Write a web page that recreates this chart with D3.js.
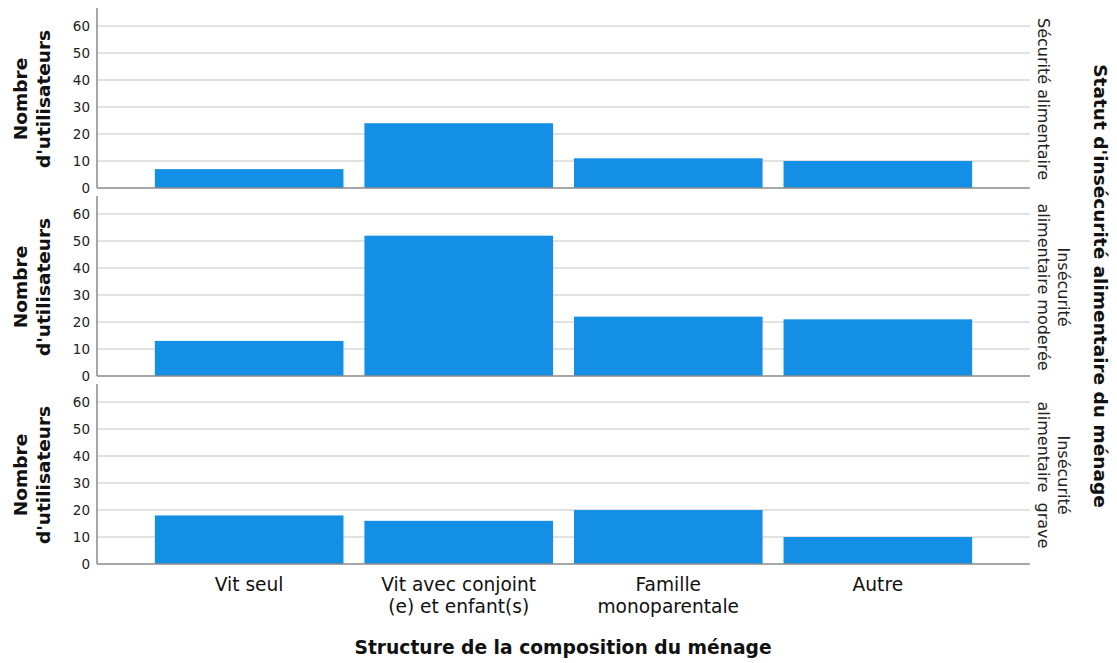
<!DOCTYPE html>
<html><head><meta charset="utf-8">
<script src="https://cdn.jsdelivr.net/npm/d3@7"></script>
<style>body{margin:0;background:#fff}svg{display:block}text{font-family:"DejaVu Sans",sans-serif}</style>
</head><body><svg id="c" width="1117" height="663"></svg>
<script>
const categories = ["Vit seul", "Vit avec conjoint|(e) et enfant(s)", "Famille|monoparentale", "Autre"];
const panels = ["Sécurité alimentaire", "Insécurité|alimentaire moderée", "Insécurité|alimentaire  grave"];
const securite = [7, 24, 11, 10];
const moderee = [13, 52, 22, 21];
const grave = [18, 16, 20, 10];
const yTicks = [0, 10, 20, 30, 40, 50, 60];
const yTitle = ["Nombre", "d'utilisateurs"];
const seriesValues = [securite, moderee, grave];

const svg = d3.select("#c");
const left = 97, right = 1030;
const x = d3.scaleBand().domain(categories).range([left, right]).paddingInner(0.1).paddingOuter(0.276);
const panelH = 188;

panels.forEach((p, i) => {
  const base = 188 + i * panelH;
  const y = d3.scaleLinear().domain([0, 66.7]).range([base, base - 180]);
  const g = svg.append("g");
  g.selectAll("line.grid").data(yTicks.slice(1)).enter().append("line").attr("class", "grid")
    .attr("x1", left).attr("x2", right).attr("y1", d => y(d)).attr("y2", d => y(d))
    .attr("stroke", "#d9d9d9").attr("stroke-width", 1.5);
  g.selectAll("rect.bar").data(seriesValues[i]).enter().append("rect").attr("class", "bar")
    .attr("x", (d, j) => x(categories[j])).attr("width", x.bandwidth())
    .attr("y", d => y(d)).attr("height", d => y(0) - y(d))
    .attr("fill", "#1390e6");
  g.append("line").attr("x1", left).attr("x2", right).attr("y1", y(0)).attr("y2", y(0))
    .attr("stroke", "#8a8a8a").attr("stroke-width", 1.5);
  g.append("line").attr("x1", left).attr("x2", left).attr("y1", y(66.7)).attr("y2", y(0))
    .attr("stroke", "#8a8a8a").attr("stroke-width", 1.5);
  g.selectAll("text.tick").data(yTicks).enter().append("text").attr("class", "tick")
    .attr("x", left - 7).attr("y", d => y(d)).attr("dy", "0.36em")
    .attr("text-anchor", "end").attr("font-size", 13.5).attr("fill", "#222").text(d => d);
  const cy = base - 89;
  yTitle.forEach((t, k) => {
    const tx = 27 + k * 22.5;
    g.append("text").attr("class", "ytitle").attr("transform", `rotate(-90,${tx},${cy})`)
      .attr("x", tx).attr("y", cy)
      .attr("text-anchor", "middle").attr("font-size", 18.5).attr("font-weight", "bold")
      .attr("fill", "#111").text(t);
  });
  const lines = p.split("|");
  lines.forEach((l, k) => {
    const bx = 1038 + (lines.length - 1 - k) * 20;
    g.append("text").attr("transform", `rotate(90,${bx},${cy})`)
      .attr("x", bx).attr("y", cy)
      .attr("text-anchor", "middle").attr("font-size", 16).attr("fill", "#222")
      .style("white-space", "pre").text(l);
  });
});

categories.forEach(c => {
  const lines = c.split("|");
  const cx = x(c) + x.bandwidth() / 2;
  lines.forEach((l, k) => svg.append("text").attr("x", cx).attr("y", 591 + k * 21.7)
    .attr("text-anchor", "middle").attr("font-size", 18.6).attr("fill", "#111").text(l));
});

svg.append("text").attr("x", 563).attr("y", 654).attr("text-anchor", "middle")
  .attr("font-size", 18.7).attr("font-weight", "bold").attr("fill", "#111")
  .text("Structure de la composition du ménage");

svg.append("text").attr("transform", "rotate(90,1094,286)").attr("x", 1094).attr("y", 286).attr("text-anchor", "middle")
  .attr("font-size", 18.5).attr("font-weight", "bold").attr("fill", "#111")
  .text("Statut d'insécurité alimentaire du ménage");
</script></body></html>
